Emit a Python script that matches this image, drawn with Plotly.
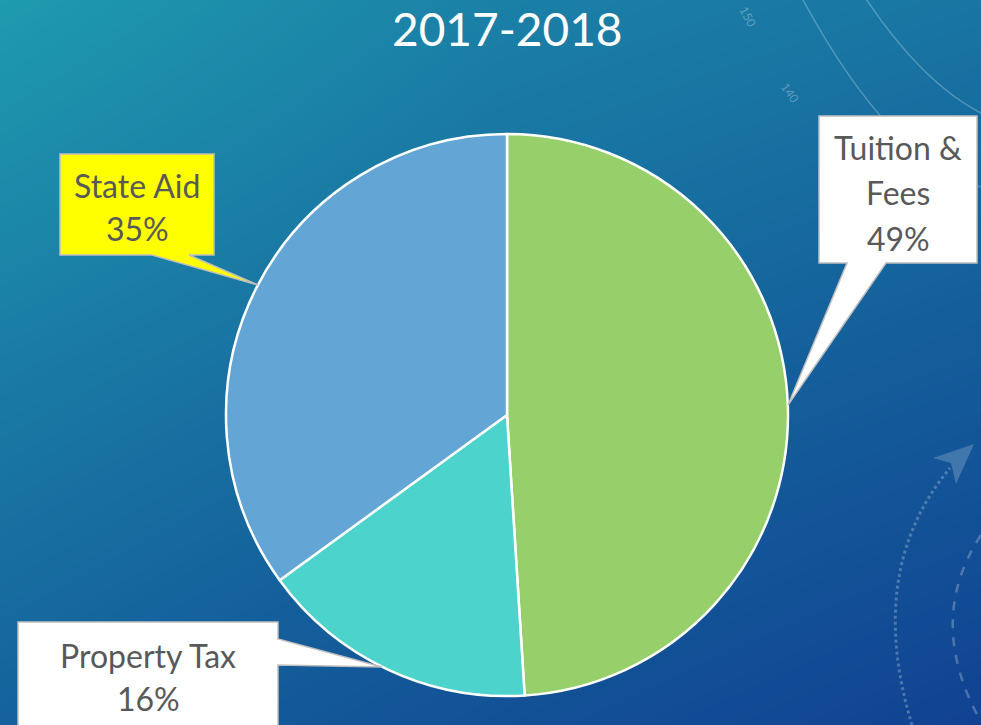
import plotly.graph_objects as go

# ---- data ----
categories = ["Tuition & Fees", "Property Tax", "State Aid"]
values = [49, 16, 35]
slice_colors = ["#97CF6B", "#4BD3CC", "#63A5D5"]
title_text = "2017-2018"

# callout label lines (text only)
tuition_lines = ["Tuition &", "Fees", "49%"]
property_lines = ["Property Tax", "16%"]
state_lines = ["State Aid", "35%"]

W, H = 981, 725

fig = go.Figure()

# background gradient (decoration) via smooth heatmap on a pixel-space axis
bg_x = [0, 490, 981]
bg_y = [0, 362, 725]
bg_z = [[0.00, 0.30, 0.42],
        [0.35, 0.55, 0.70],
        [0.62, 0.82, 1.00]]
fig.add_trace(go.Heatmap(
    x=bg_x, y=bg_y, z=bg_z, zsmooth="best", showscale=False, hoverinfo="skip",
    colorscale=[[0.0, "rgb(30,155,175)"], [0.35, "rgb(26,124,165)"],
                [0.65, "rgb(20,95,155)"], [1.0, "rgb(17,66,146)"]],
))

# pie
cx, cy, r = 507, 415, 281
fig.add_trace(go.Pie(
    labels=categories, values=values, sort=False, direction="clockwise", rotation=0,
    marker=dict(colors=slice_colors, line=dict(color="white", width=2.5)),
    textinfo="none", hoverinfo="label+percent", showlegend=False,
    domain=dict(x=[(cx - r) / W, (cx + r) / W], y=[1 - (cy + r) / H, 1 - (cy - r) / H]),
))

shapes = []
deco = "rgba(255,255,255,0.25)"
# decorative arcs (top-right protractor)
shapes.append(dict(type="path", xref="x", yref="y", path="M 803 0 Q 892 164 981 187",
                   line=dict(color=deco, width=1.5), layer="above"))
shapes.append(dict(type="path", xref="x", yref="y", path="M 860 -10 Q 920 82 981 113",
                   line=dict(color=deco, width=1.5), layer="above"))
# decorative bottom-right dotted/dashed arcs and arrow
shapes.append(dict(type="path", xref="x", yref="y", path="M 912 725 Q 865 570 950 468",
                   line=dict(color="rgba(255,255,255,0.25)", width=3, dash="dot"), layer="above"))
shapes.append(dict(type="path", xref="x", yref="y", path="M 981 535 Q 925 620 980 720",
                   line=dict(color="rgba(255,255,255,0.25)", width=2.5, dash="dash"), layer="above"))
shapes.append(dict(type="path", xref="x", yref="y", path="M 974 444 L 933 458 L 951 463 L 956 484 Z",
                   fillcolor="rgba(255,255,255,0.2)", line=dict(width=0), layer="above"))

border = "#BFBFBF"
# callouts
shapes.append(dict(type="path", xref="x", yref="y",
                   path="M 819 116 L 977 116 L 977 263 L 886 263 L 788 405 L 847 263 L 819 263 Z",
                   fillcolor="white", line=dict(color=border, width=1.5), layer="above"))
shapes.append(dict(type="path", xref="x", yref="y",
                   path="M 60 154 L 214 154 L 214 255 L 189 255 L 258 285 L 152 255 L 60 255 Z",
                   fillcolor="#FFFF00", line=dict(color=border, width=1.5), layer="above"))
shapes.append(dict(type="path", xref="x", yref="y",
                   path="M 18 622 L 278 622 L 278 639 L 382 667 L 278 665 L 278 735 L 18 735 Z",
                   fillcolor="white", line=dict(color=border, width=1.5), layer="above"))

annotations = []
font_fam = "Lato, 'Open Sans', sans-serif"
txt_col = "#595959"

def add_lines(lines, x, ys):
    for t, yy in zip(lines, ys):
        annotations.append(dict(x=x, y=yy, xref="x", yref="y", text=t, showarrow=False,
                                xanchor="center", yanchor="middle",
                                font=dict(family=font_fam, size=32, color=txt_col)))

add_lines(tuition_lines, 898, [147, 192, 238])
add_lines(state_lines, 137, [185, 228])
add_lines(property_lines, 148, [655, 698])

# title
annotations.append(dict(x=507, y=28, xref="x", yref="y", text=title_text, showarrow=False,
                        xanchor="center", yanchor="middle",
                        font=dict(family=font_fam, size=46, color="white")))

# faint protractor labels
annotations.append(dict(x=748, y=16, xref="x", yref="y", text="150", showarrow=False, textangle=62,
                        font=dict(family=font_fam, size=12, color="rgba(255,255,255,0.3)")))
annotations.append(dict(x=790, y=92, xref="x", yref="y", text="140", showarrow=False, textangle=55,
                        font=dict(family=font_fam, size=12, color="rgba(255,255,255,0.3)")))

fig.update_layout(
    width=W, height=H, margin=dict(l=0, r=0, t=0, b=0),
    paper_bgcolor="rgb(20,105,155)", plot_bgcolor="rgba(0,0,0,0)",
    xaxis=dict(range=[0, W], visible=False, fixedrange=True, domain=[0, 1]),
    yaxis=dict(range=[H, 0], visible=False, fixedrange=True, domain=[0, 1]),
    shapes=shapes, annotations=annotations, showlegend=False,
)

fig.write_html("out.html", config={"displayModeBar": False},
               post_script="document.body.style.margin='0';document.body.style.padding='0';"
                           "document.body.style.overflow='hidden';")
